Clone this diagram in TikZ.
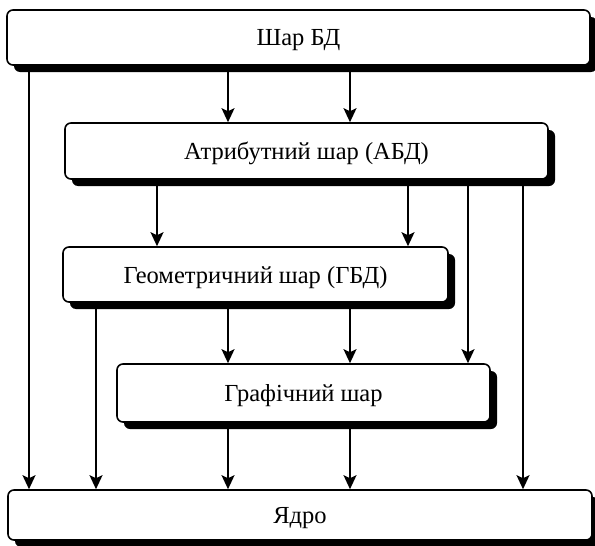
\documentclass[tikz,border=0pt]{standalone}
\usepackage{fontspec}
\setmainfont{Liberation Serif}
\usetikzlibrary{arrows.meta, shadows}

\tikzset{
  layer/.style={draw, line width=1.6pt, fill=white, rounded corners=6pt,
    inner sep=0pt, text depth=0pt, font=\fontsize{24.5}{28}\selectfont,
    drop shadow={shadow xshift=7pt, shadow yshift=-7pt, opacity=1, fill=black}},
  flow/.style={line width=1.6pt, -{Stealth[length=14pt, width=13pt, inset=3pt]}}
}

\begin{document}
\begin{tikzpicture}[x=1pt, y=-1pt]

  \useasboundingbox (0,0) rectangle (595,546);

  % Layers
  \node[layer, minimum width=583pt, minimum height=55pt] (shar)  at (298.5,37.5) {Шар БД};
  \node[layer, minimum width=483pt, minimum height=56pt] (atr)   at (306.5,151)  {Атрибутний шар (АБД)};
  \node[layer, minimum width=385pt, minimum height=55pt] (geom)  at (255.5,274.5) {Геометричний шар (ГБД)};
  \node[layer, minimum width=373pt, minimum height=58pt] (graf)  at (303.5,393)  {Графічний шар};
  \node[layer, minimum width=584pt, minimum height=50pt] (yadro) at (300,515)    {Ядро};

  % Arrows between layers
  \foreach \x in {228,350}{
    \draw[flow] (\x,0 |- shar.south) -- (\x,0 |- atr.north);
    \draw[flow] (\x,0 |- geom.south) -- (\x,0 |- graf.north);
    \draw[flow] (\x,0 |- graf.south) -- (\x,0 |- yadro.north);
  }
  \foreach \x in {157,408}
    \draw[flow] (\x,0 |- atr.south) -- (\x,0 |- geom.north);
  \draw[flow] (468,0 |- atr.south) -- (468,0 |- graf.north);

  % Arrows to the core
  \draw[flow] (29,0 |- shar.south) -- (29,0 |- yadro.north);
  \draw[flow] (523,0 |- atr.south) -- (523,0 |- yadro.north);
  \draw[flow] (96,0 |- geom.south) -- (96,0 |- yadro.north);

\end{tikzpicture}
\end{document}
